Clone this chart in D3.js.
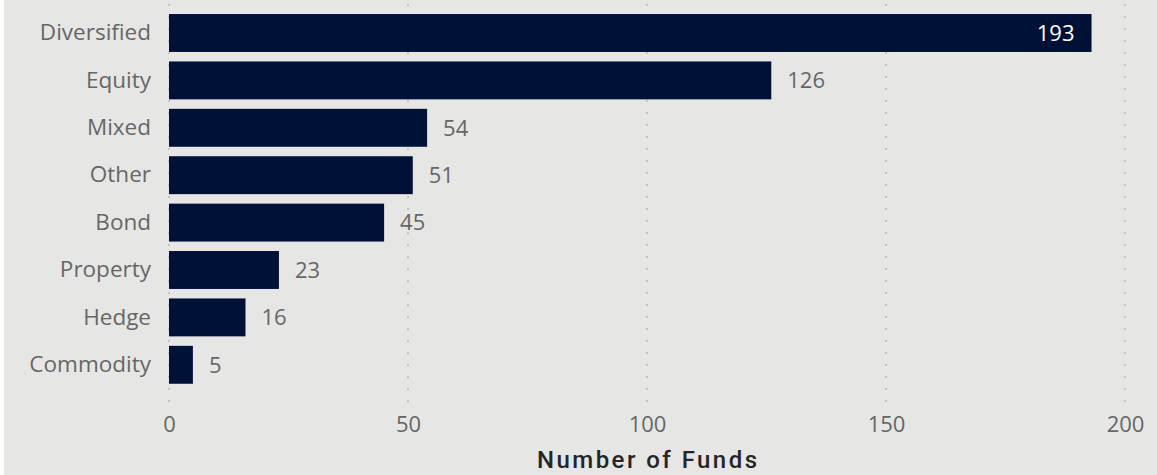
<!DOCTYPE html>
<html>
<head>
<meta charset="utf-8">
<script src="https://cdn.jsdelivr.net/npm/d3@7"></script>
<style>
  html, body { margin: 0; padding: 0; background: #ffffff; }
  svg { display: block; }
</style>
</head>
<body>
<script>
// Fund counts by asset class
const categories = ["Diversified", "Equity", "Mixed", "Other", "Bond", "Property", "Hedge", "Commodity"];
const fundCounts = [193, 126, 54, 51, 45, 23, 16, 5];
const xTicks = [0, 50, 100, 150, 200];
const xTitle = "Number of Funds";

const W = 1157, H = 475;
const data = categories.map((c, i) => ({ cat: c, val: fundCounts[i] }));

const svg = d3.select("body").append("svg").attr("width", W).attr("height", H);

svg.append("rect").attr("x", 4).attr("y", 0).attr("width", W - 4).attr("height", H).attr("fill", "#e6e6e5");

const x = d3.scaleLinear().domain([0, 200]).range([169, 1125]);
const y = d3.scaleBand().domain(categories).range([9.3, 388.5]).paddingInner(0.2).paddingOuter(0.1);

// dotted vertical gridlines
svg.append("g").selectAll("line").data(xTicks).join("line")
  .attr("x1", d => x(d)).attr("x2", d => x(d))
  .attr("y1", 4).attr("y2", 404)
  .attr("stroke", "#c4c4c4").attr("stroke-width", 2)
  .attr("stroke-dasharray", "2,10");

// x tick labels
const xAxis = d3.axisBottom(x).tickValues(xTicks).tickSize(0).tickPadding(0);
const gx = svg.append("g").attr("transform", "translate(0,416)").call(xAxis);
gx.select(".domain").remove();
gx.selectAll("text")
  .attr("dy", "0.71em")
  .attr("fill", "#666666")
  .style("font-family", "'Open Sans', sans-serif")
  .style("font-size", "22px");

// category labels
const yAxis = d3.axisLeft(y).tickSize(0).tickPadding(0);
const gy = svg.append("g").attr("transform", "translate(151,0)").call(yAxis);
gy.select(".domain").remove();
gy.selectAll("text")
  .attr("fill", "#666666")
  .style("font-family", "'Open Sans', sans-serif")
  .style("font-size", "22.5px");

// bars
svg.append("g").selectAll("rect").data(data).join("rect")
  .attr("x", x(0))
  .attr("y", d => y(d.cat))
  .attr("width", d => x(d.val) - x(0))
  .attr("height", y.bandwidth())
  .attr("fill", "#001137");

// value labels: inside the bar when it nears the right edge
svg.append("g").selectAll("text").data(data).join("text")
  .attr("x", d => d.val > 180 ? x(d.val) - 17 : x(d.val) + 16)
  .attr("y", d => y(d.cat) + y.bandwidth() / 2)
  .attr("dy", "0.35em")
  .attr("text-anchor", d => d.val > 180 ? "end" : "start")
  .attr("fill", d => d.val > 180 ? "#ffffff" : "#666666")
  .style("font-family", "'Open Sans', sans-serif")
  .style("font-size", "22px")
  .text(d => d.val);

// axis title
svg.append("text")
  .attr("x", (x(0) + x(200)) / 2)
  .attr("y", 468)
  .attr("text-anchor", "middle")
  .attr("textLength", 220)
  .attr("lengthAdjust", "spacing")
  .attr("fill", "#252525")
  .style("font-family", "Roboto, sans-serif")
  .style("font-weight", "500")
  .style("font-size", "24px")
  .text(xTitle);
</script>
</body>
</html>
